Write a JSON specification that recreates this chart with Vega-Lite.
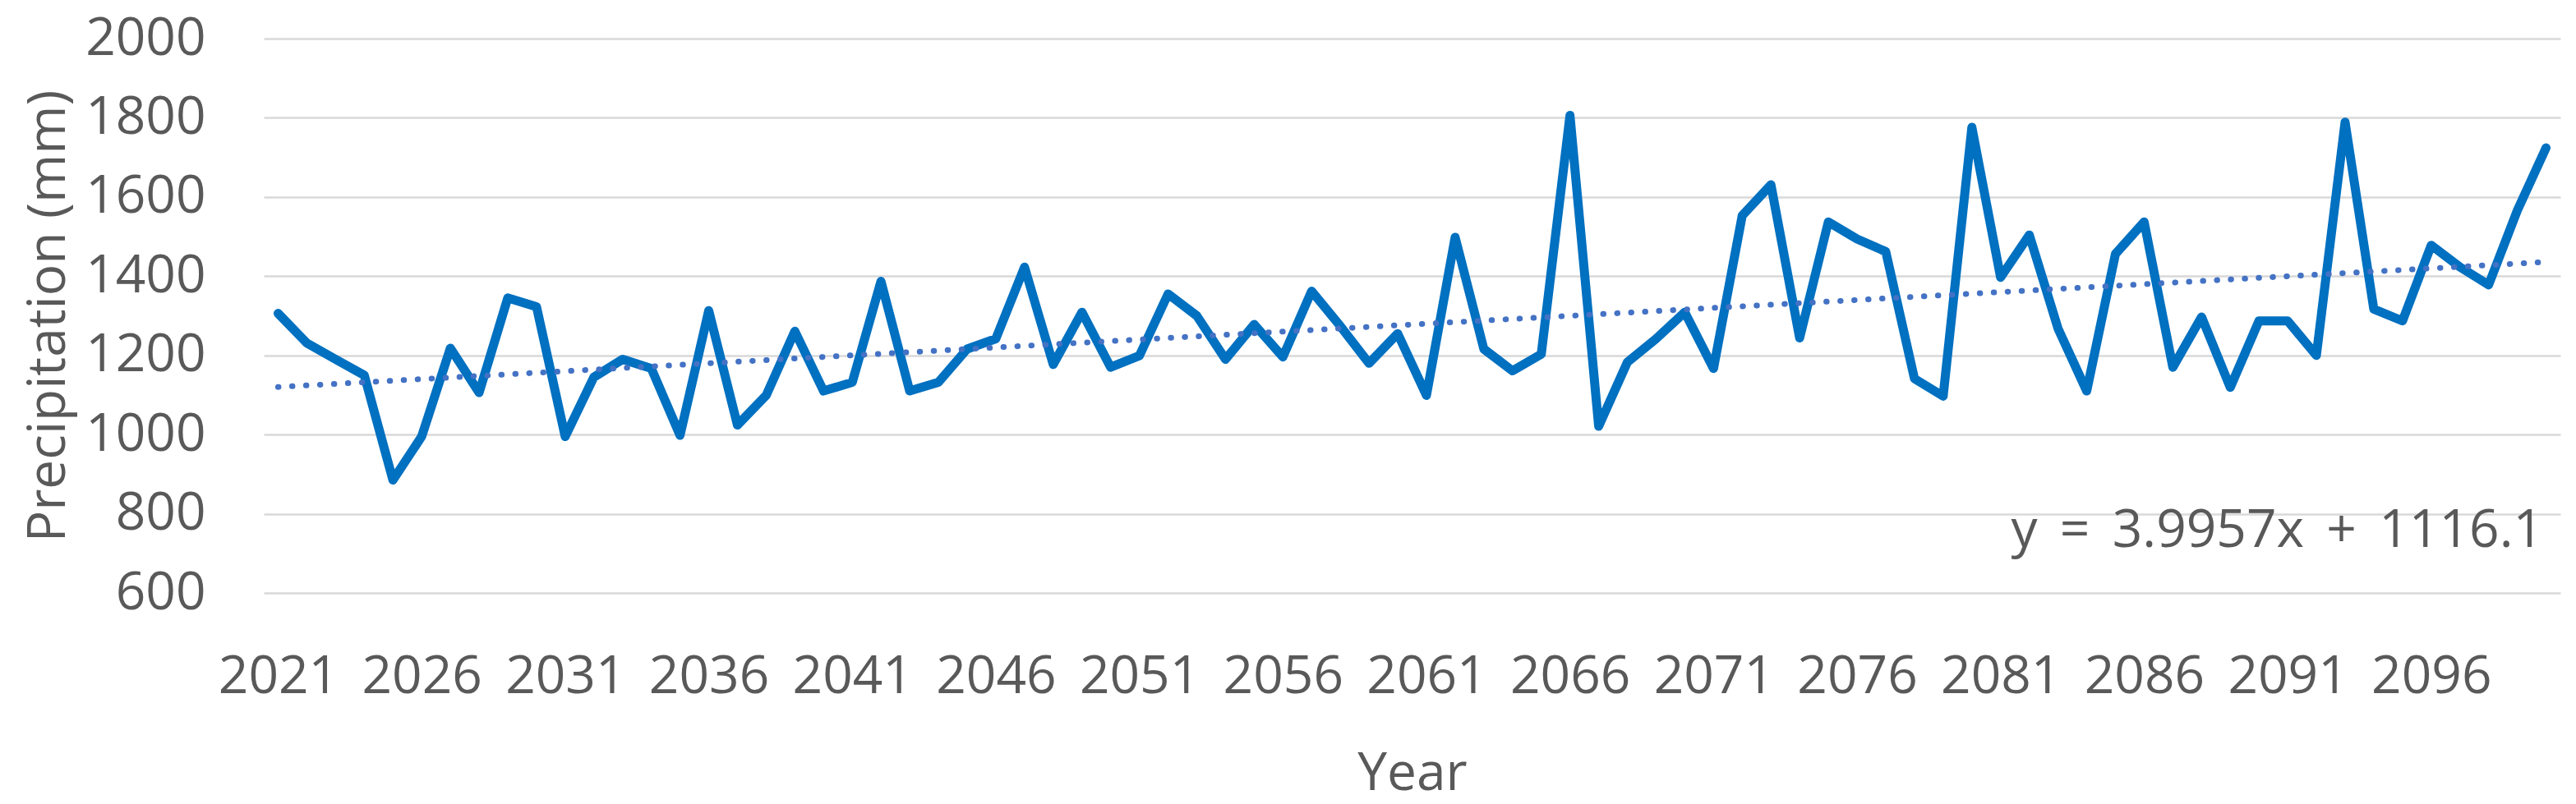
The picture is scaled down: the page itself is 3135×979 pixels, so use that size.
{
  "$schema": "https://vega.github.io/schema/vega-lite/v6.json",
  "width": 2795,
  "height": 675,
  "autosize": {"type": "none"},
  "padding": {"left": 321, "top": 47, "right": 19, "bottom": 257},
  "background": "white",
  "config": {"view": {"stroke": null}, "font": "Open Sans"},
  "datasets": {
    "precip": [
      {"year": 2021, "value": 1306}, {"year": 2022, "value": 1231}, {"year": 2023, "value": 1190}, {"year": 2024, "value": 1150},
      {"year": 2025, "value": 885}, {"year": 2026, "value": 995}, {"year": 2027, "value": 1218}, {"year": 2028, "value": 1106},
      {"year": 2029, "value": 1345}, {"year": 2030, "value": 1323}, {"year": 2031, "value": 995}, {"year": 2032, "value": 1145},
      {"year": 2033, "value": 1190}, {"year": 2034, "value": 1167}, {"year": 2035, "value": 998}, {"year": 2036, "value": 1313},
      {"year": 2037, "value": 1024}, {"year": 2038, "value": 1099}, {"year": 2039, "value": 1261}, {"year": 2040, "value": 1110},
      {"year": 2041, "value": 1132}, {"year": 2042, "value": 1387}, {"year": 2043, "value": 1110}, {"year": 2044, "value": 1132},
      {"year": 2045, "value": 1216}, {"year": 2046, "value": 1242}, {"year": 2047, "value": 1423}, {"year": 2048, "value": 1177},
      {"year": 2049, "value": 1309}, {"year": 2050, "value": 1170}, {"year": 2051, "value": 1199}, {"year": 2052, "value": 1355},
      {"year": 2053, "value": 1300}, {"year": 2054, "value": 1190}, {"year": 2055, "value": 1278}, {"year": 2056, "value": 1196},
      {"year": 2057, "value": 1362}, {"year": 2058, "value": 1274}, {"year": 2059, "value": 1180}, {"year": 2060, "value": 1255},
      {"year": 2061, "value": 1099}, {"year": 2062, "value": 1498}, {"year": 2063, "value": 1216}, {"year": 2064, "value": 1161},
      {"year": 2065, "value": 1203}, {"year": 2066, "value": 1806}, {"year": 2067, "value": 1021}, {"year": 2068, "value": 1183},
      {"year": 2069, "value": 1242}, {"year": 2070, "value": 1309}, {"year": 2071, "value": 1167}, {"year": 2072, "value": 1553},
      {"year": 2073, "value": 1631}, {"year": 2074, "value": 1244}, {"year": 2075, "value": 1537}, {"year": 2076, "value": 1494},
      {"year": 2077, "value": 1462}, {"year": 2078, "value": 1141}, {"year": 2079, "value": 1097}, {"year": 2080, "value": 1776},
      {"year": 2081, "value": 1397}, {"year": 2082, "value": 1504}, {"year": 2083, "value": 1268}, {"year": 2084, "value": 1110},
      {"year": 2085, "value": 1456}, {"year": 2086, "value": 1537}, {"year": 2087, "value": 1170}, {"year": 2088, "value": 1297},
      {"year": 2089, "value": 1119}, {"year": 2090, "value": 1287}, {"year": 2091, "value": 1287}, {"year": 2092, "value": 1200},
      {"year": 2093, "value": 1789}, {"year": 2094, "value": 1317}, {"year": 2095, "value": 1287}, {"year": 2096, "value": 1478},
      {"year": 2097, "value": 1423}, {"year": 2098, "value": 1378}, {"year": 2099, "value": 1566}, {"year": 2100, "value": 1724}
    ],
    "trend": [
      {"year": 2021, "value": 1120.1},
      {"year": 2100, "value": 1435.76}
    ],
    "equation": [
      {"year": 2099.9, "value": 716, "label": "y \u2006= \u20063.9957x \u2006+ \u20061116.1"}
    ]
  },
  "layer": [
    {
      "data": {"name": "precip"},
      "mark": {"type": "line", "color": "#0070C0", "strokeWidth": 11, "strokeJoin": "round", "strokeCap": "round"},
      "encoding": {
        "x": {
          "field": "year", "type": "quantitative",
          "scale": {"domain": [2020.5, 2100.5], "nice": false, "zero": false},
          "axis": {
            "values": [2021, 2026, 2031, 2036, 2041, 2046, 2051, 2056, 2061, 2066, 2071, 2076, 2081, 2086, 2091, 2096],
            "format": "d", "grid": false, "domain": false, "ticks": false, "tickSize": 0,
            "labelFontSize": 64, "labelColor": "#595959", "labelPadding": 70, "labelFont": "Open Sans",
            "title": "Year", "titleFontSize": 64, "titleColor": "#595959", "titleFontWeight": "normal",
            "titlePadding": 54, "titleFont": "Open Sans"
          }
        },
        "y": {
          "field": "value", "type": "quantitative",
          "scale": {"domain": [600, 2000], "nice": false, "zero": false},
          "axis": {
            "values": [600, 800, 1000, 1200, 1400, 1600, 1800, 2000],
            "format": "d", "grid": true, "gridColor": "#D9D9D9", "gridWidth": 2.7,
            "domain": false, "ticks": false, "tickSize": 0,
            "labelFontSize": 64, "labelColor": "#595959", "labelPadding": 71, "labelFont": "Open Sans",
            "title": "Precipitation (mm)", "titleFontSize": 64, "titleColor": "#595959", "titleFontWeight": "normal",
            "titlePadding": 30, "titleFont": "Open Sans"
          }
        }
      }
    },
    {
      "data": {"name": "trend"},
      "mark": {"type": "line", "color": "#4472C4", "strokeWidth": 7, "strokeDash": [0.5, 16.5], "strokeCap": "round"},
      "encoding": {
        "x": {"field": "year", "type": "quantitative"},
        "y": {"field": "value", "type": "quantitative"}
      }
    },
    {
      "data": {"name": "equation"},
      "mark": {"type": "text", "align": "right", "baseline": "alphabetic", "fontSize": 64, "color": "#595959", "font": "Open Sans"},
      "encoding": {
        "x": {"field": "year", "type": "quantitative"},
        "y": {"field": "value", "type": "quantitative"},
        "text": {"field": "label"}
      }
    }
  ]
}
